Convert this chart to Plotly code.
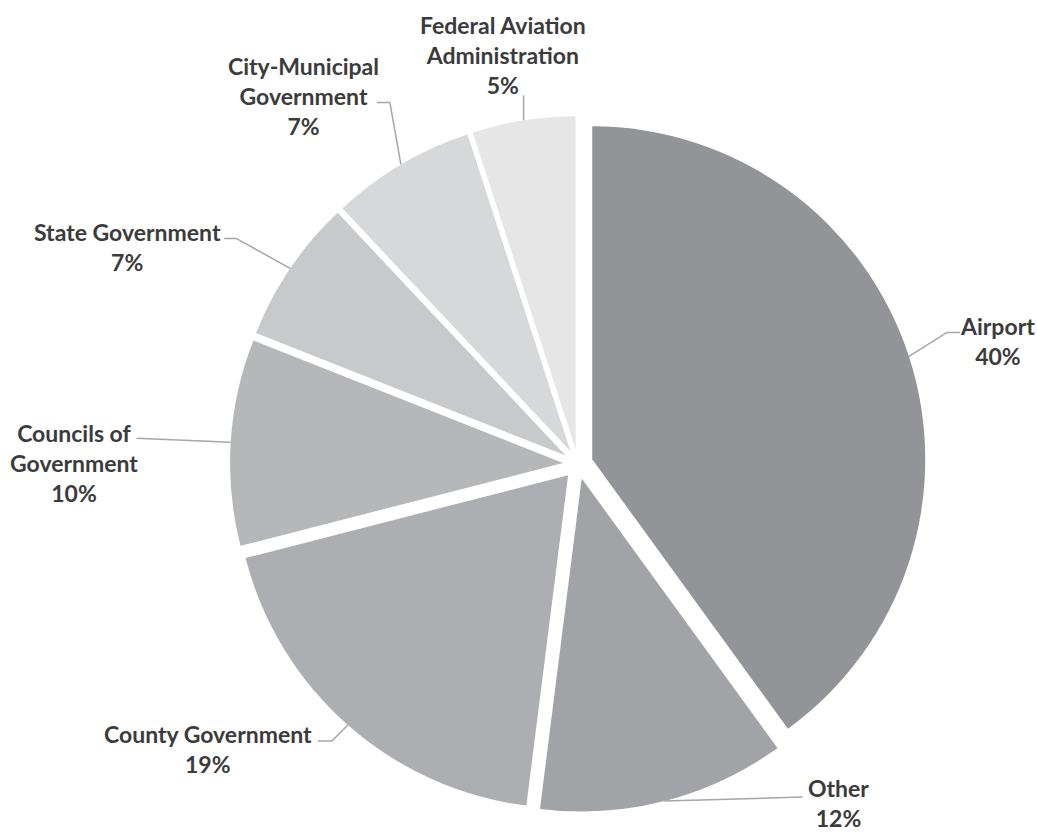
import math
import plotly.graph_objects as go

# ---- data ----
CATEGORIES = ["Airport", "Other", "County Government", "Councils of Government",
              "State Government", "City-Municipal Government", "Federal Aviation Administration"]
DISPLAY_LABELS = ["Airport", "Other", "County Government", "Councils of<br>Government",
                  "State Government", "City-Municipal<br>Government", "Federal Aviation<br>Administration"]
SHARES = [40, 12, 19, 10, 7, 7, 5]

# ---- styles ----
COLORS = ["#939497", "#a1a3a6", "#adaeb1", "#b6b7b9", "#c8c9cb", "#d7d8d9", "#e6e6e6"]
W, H = 1037, 832
CX, CY = 578, 464          # pie centre (px)
R = 333                    # pie radius (px)
PULL = 0.045
# leader-line bend points and label centre, as offsets (px) from slice edge anchor
LEADER = [
    [(38, -24), (51, -24)],
    [(138, -4)],
    [(-16, 16), (-30, 16)],
    [(-94, -4)],
    [(-54, -30), (-66, -30)],
    [(-11, -62), (-24, -62)],
    [(0, -25)],
]
LABEL_OFF = [(89, -15), (174, 2), (-140, 24), (-157, 21), (-163, -21), (-97, -68), (-21, -65)]

total = sum(SHARES)
half = R * (1 + PULL)

fig = go.Figure(go.Pie(
    labels=CATEGORIES, values=SHARES, sort=False, direction="clockwise", rotation=0,
    pull=[PULL] * len(SHARES), textinfo="none", hoverinfo="label+percent",
    marker=dict(colors=COLORS, line=dict(color="white", width=0)),
    domain=dict(x=[(CX - half) / W, (CX + half) / W],
                y=[(H - CY - half) / H, (H - CY + half) / H]),
    showlegend=False,
))

def px2paper(x, y):
    return x / W, 1 - y / H

annotations, shapes = [], []
cum = 0
for i, v in enumerate(SHARES):
    mid = (cum + v / 2) / total * 2 * math.pi
    cum += v
    s, c = math.sin(mid), math.cos(mid)
    pcx, pcy = CX + R * PULL * s, CY - R * PULL * c
    ax, ay = pcx + R * s, pcy - R * c
    pts = [(ax, ay)] + [(ax + dx, ay + dy) for dx, dy in LEADER[i]]
    path = "M " + " L ".join(f"{px2paper(x, y)[0]:.5f},{px2paper(x, y)[1]:.5f}" for x, y in pts)
    shapes.append(dict(type="path", xref="paper", yref="paper", path=path,
                       line=dict(color="#a6a6a6", width=1.5)))
    lx, ly = px2paper(ax + LABEL_OFF[i][0], ay + LABEL_OFF[i][1])
    pct = round(v / total * 100)
    annotations.append(dict(
        x=lx, y=ly, xref="paper", yref="paper", xanchor="center", yanchor="middle",
        text=f"{DISPLAY_LABELS[i]}<br>{pct}%", showarrow=False, align="center",
        font=dict(family="Lato", size=23, color="#3b3b3b", weight="bold"),
    ))

fig.update_layout(
    width=W, height=H, margin=dict(l=0, r=0, t=0, b=0),
    paper_bgcolor="white", plot_bgcolor="white",
    annotations=annotations, shapes=shapes,
)
fig.write_html("out.html")
